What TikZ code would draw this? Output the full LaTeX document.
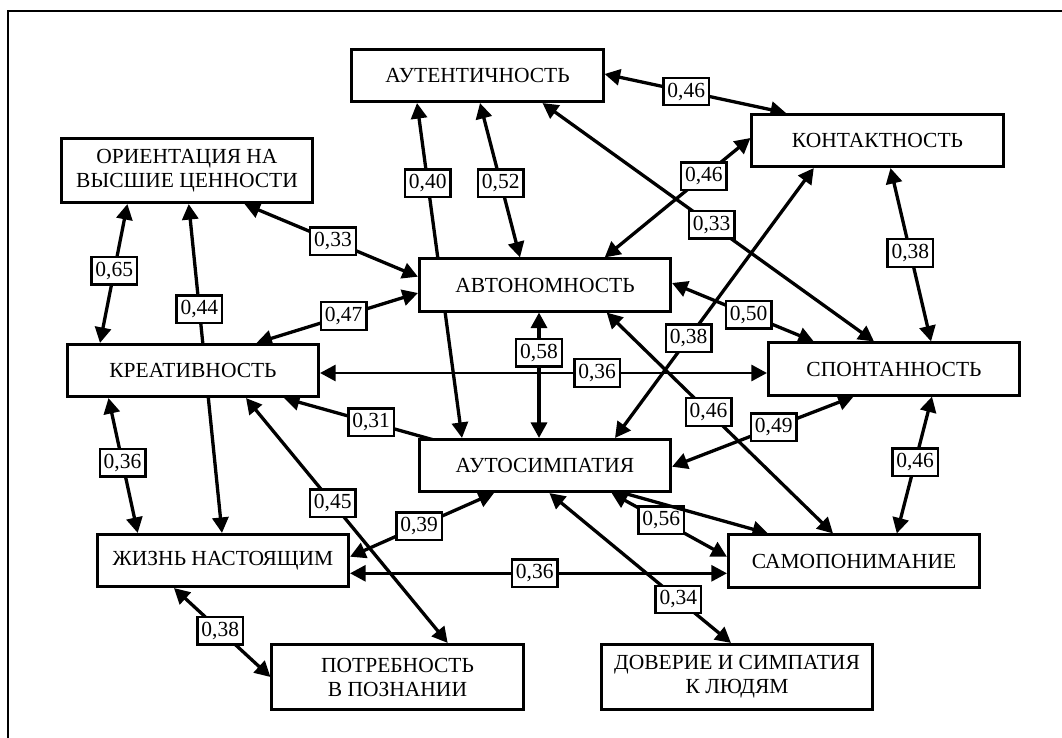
\documentclass[tikz,border=0pt]{standalone}
\usepackage{fontspec}
\setmainfont{Liberation Serif}
\usetikzlibrary{arrows.meta,backgrounds}

\begin{document}
\begin{tikzpicture}[x=1pt, y=-1pt,
  every node/.style={font=\fontsize{21.5}{24}\selectfont},
  trait/.style={draw, fill=white, line width=2.6pt, minimum width=251.5pt, minimum height=52.5pt, align=center, inner sep=2pt},
  coef/.style={draw, fill=white, line width=2.4pt, inner xsep=4pt, inner ysep=0pt, minimum height=27.5pt},
  link/.style={line width=3.3pt, {Triangle[length=15.5pt,width=16pt]}-{Triangle[length=15.5pt,width=16pt]}}]
\useasboundingbox (0,0) rectangle (1062,738);
\draw [line width=2.6pt] (8,740) -- (8,11) -- (1064,11);
\node [trait] (aut) at (477.5,75.5) {АУТЕНТИЧНОСТЬ};
\node [trait, minimum height=64.5pt] (ori) at (187,170.5) {ОРИЕНТАЦИЯ НА\\ВЫСШИЕ ЦЕННОСТИ};
\node [trait] (kon) at (877.5,140.5) {КОНТАКТНОСТЬ};
\node [trait] (avt) at (545,285) {АВТОНОМНОСТЬ};
\node [trait] (kre) at (193,370.5) {КРЕАТИВНОСТЬ};
\node [trait] (spo) at (894,369) {СПОНТАННОСТЬ};
\node [trait] (sim) at (545,465.5) {АУТОСИМПАТИЯ};
\node [trait] (zhi) at (223,560.5) {ЖИЗНЬ НАСТОЯЩИМ};
\node [trait] (sam) at (854,561) {САМОПОНИМАНИЕ};
\node [trait, minimum height=65.5pt] (pot) at (397.5,677) {ПОТРЕБНОСТЬ\\В ПОЗНАНИИ};
\node [trait, minimum height=65.5pt, minimum width=271.5pt] (dov) at (737,677) {ДОВЕРИЕ И СИМПАТИЯ\\К ЛЮДЯМ};
\begin{scope}[on background layer]
\draw [link] ([xshift=-60.5pt]aut.south) -- node[coef, pos=0.24] {0,40} ([xshift=-83pt]sim.north);
\draw [link] ([xshift=2.5pt]aut.south) -- node[coef, pos=0.52] {0,52} ([xshift=-25pt]avt.north);
\draw [link] ([xshift=57.5pt]ori.south) -- node[coef, pos=0.51] {0,33} ([yshift=8.3pt]avt.west);
\draw [link] ([xshift=-59.6pt]ori.south) -- node[coef, pos=0.48] {0,65} ([xshift=-93pt]kre.north);
\draw [link] ([xshift=1.7pt]ori.south) -- node[coef, pos=0.32] {0,44} ([xshift=-1pt]zhi.north);
\draw [link] ([xshift=63.5pt]kre.north) -- node[coef, pos=0.54] {0,47} ([yshift=-8pt]avt.west);
\draw [link] ([yshift=1.5pt]aut.east) -- node[coef, pos=0.45] {0,46} ([xshift=-91.5pt]kon.north);
\draw [link] ([yshift=2.5pt]kon.west) -- node[coef, pos=0.32] {0,46} ([xshift=59.7pt]avt.north);
\draw [link] ([xshift=65pt]aut.south) -- node[coef, pos=0.51] {0,33} ([xshift=-20pt]spo.north);
\draw [link] ([xshift=13pt]kon.south) -- node[coef, pos=0.49] {0,38} ([xshift=37pt]spo.north);
\draw [link] ([yshift=2pt]avt.east) -- node[coef, pos=0.54] {0,50} ([xshift=-80.2pt]spo.north);
\draw [link] ([xshift=-63.7pt]kon.south) -- node[coef, pos=0.63] {0,38} ([xshift=70pt]sim.north);
\draw [link] ([xshift=-6pt]avt.south) -- node[coef, pos=0.32] {0,58} ([xshift=-6pt]sim.north);
\draw [link, line width=2.6pt] ([yshift=-2.5pt]kre.east) -- node[coef, pos=0.62] {0,36} ([yshift=-4pt]spo.west);
\draw [link] ([xshift=61.7pt]avt.south) -- node[coef, pos=0.45] {0,46} ([xshift=-21pt]sam.north);
\draw [link] ([yshift=-1.2pt]sim.east) -- node[coef, pos=0.56] {0,49} ([xshift=-40.4pt]spo.south);
\draw [link] ([xshift=38pt]spo.south) -- node[coef, pos=0.48] {0,46} ([xshift=42.8pt]sam.north);
\draw [link] ([xshift=66.6pt]sim.south) -- node[coef, pos=0.43] {0,56} ([yshift=4.3pt]sam.west);
\draw [link] ([xshift=91pt]kre.south) -- node[coef, pos=0.18] {0,31} ([xshift=-86pt]sam.north);
\draw [link] ([xshift=53pt]kre.south) -- node[coef, pos=0.43] {0,45} ([xshift=50.2pt]pot.north);
\draw [link] ([yshift=3.8pt]zhi.east) -- node[coef, pos=0.48] {0,39} ([xshift=-51pt]sim.south);
\draw [link, line width=2.6pt] ([yshift=-12.8pt]zhi.east) -- node[coef, pos=0.49] {0,36} ([yshift=-12.3pt]sam.west);
\draw [link] ([xshift=-49pt]zhi.south) -- node[coef, pos=0.48] {0,38} (pot.west);
\draw [link] ([xshift=4.4pt]sim.south) -- node[coef, pos=0.71] {0,34} ([xshift=-6pt]dov.north);
\draw [link] ([xshift=-84.5pt]kre.south) -- node[coef, pos=0.48] {0,36} ([xshift=-85.3pt]zhi.north);
\end{scope}
\end{tikzpicture}
\end{document}
